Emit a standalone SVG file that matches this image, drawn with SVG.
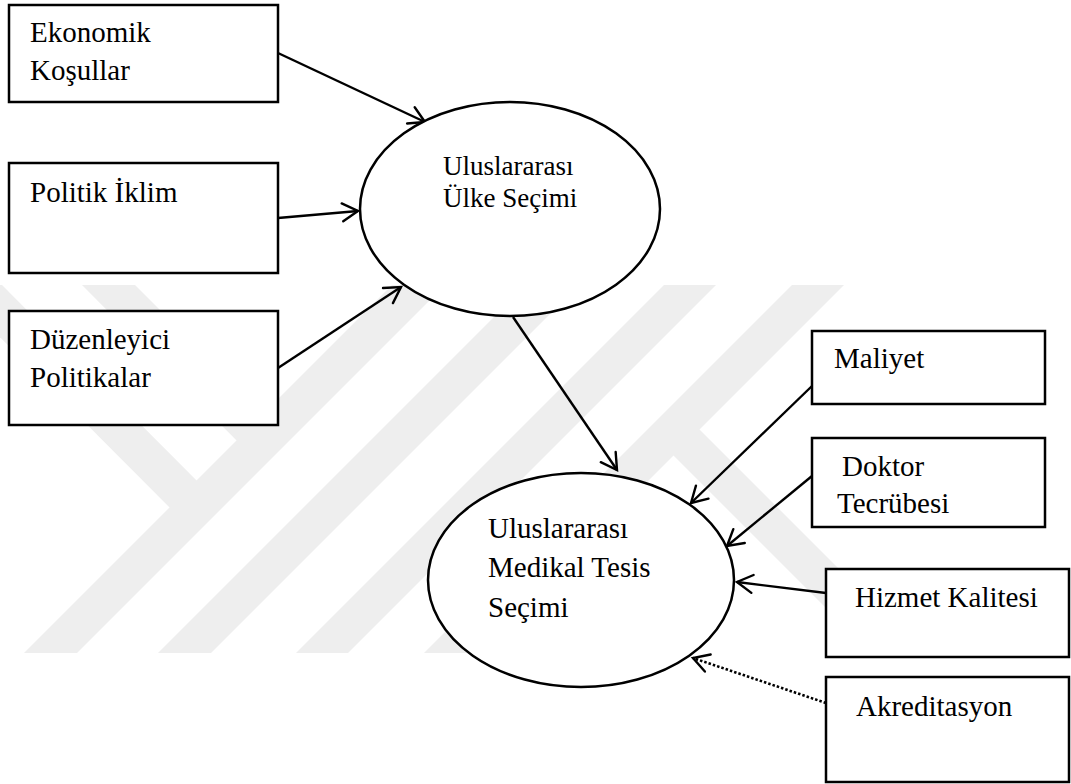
<svg xmlns="http://www.w3.org/2000/svg" width="1071" height="784" viewBox="0 0 1071 784">
  <style>
    .wm { fill: #eeeeee; }
    .box { fill: #ffffff; stroke: #000000; stroke-width: 2.5; }
    .oval { fill: #ffffff; stroke: #000000; stroke-width: 2.5; }
    .lbl { font-family: "Liberation Serif", "Times New Roman", serif; font-size: 29px; fill: #000000; }
    .lbl-sm { font-size: 27px; }
    .edge { fill: none; stroke: #000000; stroke-width: 2.4; marker-end: url(#open); }
    .dotted { stroke-dasharray: 2.5 2; stroke-width: 2.6; }
  </style>
  <defs>
    <marker id="open" markerUnits="userSpaceOnUse" markerWidth="40" markerHeight="40" viewBox="-20 -20 40 40" refX="0" refY="0" orient="auto" overflow="visible">
      <path d="M -15.6,-9 L 0,0 L -15.6,9" fill="none" stroke="#000000" stroke-width="2.4" stroke-linecap="round" stroke-linejoin="miter"/>
    </marker>
    <clipPath id="wmclip">
      <rect x="0" y="285" width="1071" height="368"/>
    </clipPath>
  </defs>

  <rect width="1071" height="784" fill="#ffffff"/>

  <!-- background emblem: diagonal bands -->
  <g id="emblem" class="wm" clip-path="url(#wmclip)">
    <polygon points="392,285 445,285 77,653 24,653"/>
    <polygon points="-52,285 2,285 208,492 181,519"/>
    <polygon points="82,285 135,285 275,425 248,452"/>
    <polygon points="526,285 579,285 211,653 158,653"/>
    <polygon points="664,285 716,285 348,653 296,653"/>
    <polygon points="792,285 844,285 476,653 424,653"/>
    <polygon points="659,441 685,415 923,653 871,653"/>
  </g>

  <!-- connectors -->
  <g id="connectors">
    <line class="edge" x1="278" y1="53" x2="425" y2="122"/>
    <line class="edge" x1="278" y1="218" x2="358" y2="211"/>
    <line class="edge" x1="278" y1="368" x2="401" y2="287"/>
    <line class="edge" x1="513" y1="317" x2="617" y2="470"/>
    <line class="edge" x1="812" y1="386" x2="691" y2="503"/>
    <line class="edge" x1="812" y1="476" x2="727" y2="546"/>
    <line class="edge" x1="826" y1="593" x2="737" y2="582"/>
    <line class="edge dotted" x1="826" y1="703" x2="693" y2="658"/>
  </g>

  <g id="ekonomik-kosullar">
    <rect class="box" x="9" y="5" width="269" height="97"/>
    <text class="lbl" x="30" y="42">Ekonomik</text>
    <text class="lbl" x="30" y="80">Koşullar</text>
  </g>

  <g id="politik-iklim">
    <rect class="box" x="9" y="163" width="269" height="110"/>
    <text class="lbl" x="30" y="202">Politik İklim</text>
  </g>

  <g id="duzenleyici-politikalar">
    <rect class="box" x="9" y="311" width="269" height="114"/>
    <text class="lbl" x="30" y="349">Düzenleyici</text>
    <text class="lbl" x="30" y="387">Politikalar</text>
  </g>

  <g id="ulke-secimi">
    <ellipse class="oval" cx="510" cy="209" rx="150" ry="107"/>
    <text class="lbl lbl-sm" x="443" y="175">Uluslararası</text>
    <text class="lbl lbl-sm" x="443" y="207">Ülke Seçimi</text>
  </g>

  <g id="medikal-tesis-secimi">
    <ellipse class="oval" cx="581" cy="580" rx="153" ry="107"/>
    <text class="lbl" x="488" y="538">Uluslararası</text>
    <text class="lbl" x="488" y="577">Medikal Tesis</text>
    <text class="lbl" x="488" y="617">Seçimi</text>
  </g>

  <g id="maliyet">
    <rect class="box" x="812" y="331" width="233" height="73"/>
    <text class="lbl" x="834" y="368">Maliyet</text>
  </g>

  <g id="doktor-tecrubesi">
    <rect class="box" x="812" y="438" width="233" height="89"/>
    <text class="lbl" x="842" y="476">Doktor</text>
    <text class="lbl" x="837" y="513">Tecrübesi</text>
  </g>

  <g id="hizmet-kalitesi">
    <rect class="box" x="826" y="569" width="243" height="88"/>
    <text class="lbl" x="855" y="607">Hizmet Kalitesi</text>
  </g>

  <g id="akreditasyon">
    <rect class="box" x="826" y="677" width="243" height="105"/>
    <text class="lbl" x="856" y="716">Akreditasyon</text>
  </g>
</svg>
